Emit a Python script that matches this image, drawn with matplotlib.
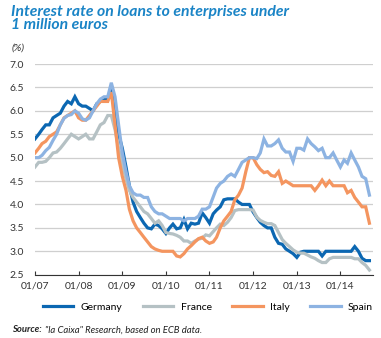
import matplotlib
matplotlib.use('Agg')
import matplotlib.pyplot as plt
import matplotlib.dates as mdates
import pandas as pd
import datetime as dt

plt.rcParams['font.family'] = ['Lato', 'DejaVu Sans']

# monthly data, Jan 2007 - Sep 2014 (%)
germany = [5.4, 5.5, 5.6, 5.7, 5.7, 5.85, 5.9, 5.95, 6.1, 6.2, 6.15, 6.3, 6.15, 6.1, 6.1, 6.05, 6.0, 6.15, 6.2, 6.25, 6.25, 6.5,
           6.0, 5.5, 5.2, 4.8, 4.4, 4.05, 3.85, 3.72, 3.6, 3.5, 3.48, 3.58, 3.55, 3.48, 3.38, 3.5, 3.58, 3.48, 3.5, 3.68,
           3.48, 3.6, 3.58, 3.6, 3.82, 3.72, 3.6, 3.8, 3.88, 3.95, 4.1, 4.12, 4.12, 4.12, 4.05, 4.0, 4.0, 4.0, 3.84, 3.72,
           3.62, 3.55, 3.5, 3.5, 3.3, 3.17, 3.15, 3.05, 3.0, 2.95, 2.87, 2.98, 3.0, 3.0, 3.0, 3.0, 3.0, 2.9, 3.0, 3.0,
           3.0, 3.0, 3.0, 3.0, 3.0, 3.0, 3.1, 3.0, 2.85, 2.8, 2.8]
france = [4.8, 4.9, 4.9, 4.92, 5.0, 5.1, 5.12, 5.2, 5.3, 5.4, 5.5, 5.45, 5.4, 5.45, 5.5, 5.4, 5.4, 5.55, 5.7, 5.75, 5.9, 5.9,
          5.6, 5.2, 4.85, 4.55, 4.3, 4.15, 4.05, 3.95, 3.85, 3.8, 3.7, 3.6, 3.65, 3.55, 3.4, 3.38, 3.37, 3.34, 3.3, 3.22,
          3.22, 3.17, 3.22, 3.26, 3.28, 3.35, 3.33, 3.42, 3.5, 3.58, 3.55, 3.62, 3.72, 3.87, 3.89, 3.89, 3.89, 3.89, 3.88, 3.73,
          3.66, 3.62, 3.59, 3.59, 3.55, 3.4, 3.25, 3.17, 3.1, 3.03, 2.98, 2.96, 2.96, 2.92, 2.88, 2.85, 2.8, 2.76, 2.76, 2.84,
          2.87, 2.87, 2.87, 2.87, 2.87, 2.87, 2.84, 2.84, 2.76, 2.7, 2.6]
italy = [5.1, 5.2, 5.3, 5.35, 5.45, 5.5, 5.55, 5.7, 5.85, 5.9, 5.95, 6.0, 5.85, 5.8, 5.8, 5.9, 6.0, 6.1, 6.2, 6.2, 6.2, 6.4,
         5.7, 5.0, 4.6, 4.3, 3.9, 3.65, 3.5, 3.4, 3.3, 3.2, 3.1, 3.05, 3.02, 3.0, 3.0, 3.0, 3.0, 2.9, 2.88, 2.95,
         3.05, 3.12, 3.2, 3.27, 3.3, 3.22, 3.17, 3.2, 3.3, 3.5, 3.65, 3.75, 3.85, 4.1, 4.2, 4.35, 4.7, 5.0, 5.0, 4.85,
         4.75, 4.68, 4.7, 4.62, 4.6, 4.7, 4.45, 4.5, 4.45, 4.4, 4.4, 4.4, 4.4, 4.4, 4.4, 4.3, 4.4, 4.52, 4.4, 4.5,
         4.4, 4.4, 4.4, 4.4, 4.25, 4.3, 4.15, 4.05, 3.95, 3.95, 3.6]
spain = [5.0, 5.0, 5.05, 5.15, 5.22, 5.37, 5.5, 5.7, 5.84, 5.9, 5.92, 6.0, 5.95, 5.83, 5.8, 5.85, 6.0, 6.15, 6.25, 6.3, 6.3, 6.6,
         6.3, 5.7, 5.1, 4.7, 4.4, 4.25, 4.2, 4.2, 4.15, 4.15, 3.95, 3.85, 3.8, 3.8, 3.75, 3.7, 3.7, 3.7, 3.7, 3.65,
         3.7, 3.7, 3.7, 3.75, 3.9, 3.9, 3.95, 4.16, 4.35, 4.45, 4.5, 4.6, 4.65, 4.6, 4.75, 4.9, 4.95, 5.0, 5.0, 4.98,
         5.1, 5.4, 5.25, 5.25, 5.3, 5.38, 5.2, 5.12, 5.12, 4.92, 5.2, 5.2, 5.16, 5.4, 5.3, 5.23, 5.15, 5.2, 5.0, 5.0,
         5.1, 4.95, 4.8, 4.95, 4.88, 5.1, 4.95, 4.8, 4.6, 4.55, 4.2]

dates = pd.date_range('2007-01-01', periods=len(germany), freq='MS')

names = ['Germany', 'France', 'Italy', 'Spain']
colors = ['#0b67b2', '#b5c1c4', '#f4955f', '#8db3e2']
series = [germany, france, italy, spain]

fig = plt.figure(figsize=(3.81, 3.38), dpi=100)
ax = fig.add_axes([35/381, 1-274.7/338, 338/381, 210.7/338])

for name, col, vals in zip(names, colors, series):
    ax.plot(dates, vals, color=col, lw=2.3, label=name, solid_joinstyle='miter')

ax.set_ylim(2.5, 7.0)
ax.set_yticks([2.5, 3.0, 3.5, 4.0, 4.5, 5.0, 5.5, 6.0, 6.5, 7.0])
ax.set_xlim(dt.datetime(2007, 1, 1), dt.datetime(2014, 10, 1))
ax.xaxis.set_major_locator(mdates.YearLocator())
ax.xaxis.set_major_formatter(mdates.DateFormatter('%m/%y'))

ax.grid(axis='y', color='#cfcfcf', lw=0.9)
ax.set_axisbelow(True)
for s in ['left', 'right', 'top']:
    ax.spines[s].set_visible(False)
ax.spines['bottom'].set_color('#333333')
ax.spines['bottom'].set_linewidth(0.8)
ax.tick_params(axis='x', direction='in', length=3, width=0.8, color='#333333', labelsize=7.5, labelcolor='#333333', pad=5)
ax.tick_params(axis='y', length=0, labelsize=7.5, labelcolor='#333333', pad=8)

fig.text(11/381, 1-5/338, 'Interest rate on loans to enterprises under\n1 million euros', fontsize=11.3, fontweight='bold',
         style='italic', color='#1a84c6', va='top', ha='left', linespacing=0.95)
fig.text(12/381, 1-48/338, '(%)', fontsize=7.5, style='italic', color='#333333', va='center')

ax.legend(loc='center left', bbox_to_anchor=(8/338, 1-(307-64)/210.7), ncol=4, frameon=False, fontsize=7.5,
          handlelength=2.9, columnspacing=2.0, handletextpad=0.7, borderaxespad=0, borderpad=0)

# source line: bold label followed by italic text
src = fig.text(12/381, 1-330/338, 'Source:', fontsize=6.8, fontweight='bold', style='italic', color='#222222', va='center')
r = fig.canvas.get_renderer()
bb = src.get_window_extent(renderer=r)
fig.text(bb.x1/381 + 3/381, 1-330/338, '"la Caixa" Research, based on ECB data.', fontsize=6.8, style='italic',
         color='#222222', va='center')

fig.savefig('out.png', dpi=100)
